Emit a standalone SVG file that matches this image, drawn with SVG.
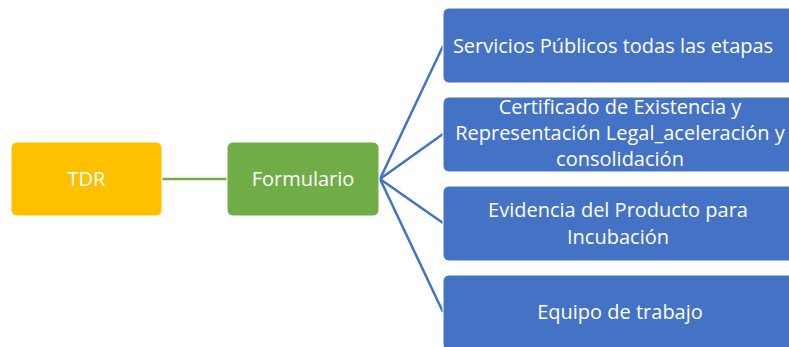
<svg xmlns="http://www.w3.org/2000/svg" width="789" height="347" viewBox="0 0 789 347">
<style>
.t{font-family:"Open Sans","Liberation Sans",sans-serif;font-size:20px;fill:#fff;text-anchor:middle}
.b{fill:#4472C4;stroke:#fff;stroke-width:1}
</style>
<rect width="789" height="347" fill="#fff"/>
<g id="connectors" fill="none" stroke-width="2.5">
<line x1="162" y1="179" x2="227" y2="179" stroke="#70AD47"/>
<g stroke="#4472C4">
<line x1="380" y1="179" x2="443" y2="46"/>
<line x1="380" y1="179" x2="443" y2="134"/>
<line x1="380" y1="179" x2="443" y2="223"/>
<line x1="380" y1="179" x2="443" y2="312"/>
</g>
</g>
<g id="tdr"><rect x="11" y="142" width="151" height="74" rx="6" fill="#FFC000" stroke="#fff"/><text class="t" x="86.5" y="186">TDR</text></g>
<g id="formulario"><rect x="227" y="142" width="152" height="74" rx="6" fill="#70AD47" stroke="#fff"/><text class="t" x="303" y="186">Formulario</text></g>
<g id="servicios"><rect class="b" x="443" y="8" width="356" height="75" rx="6"/><text class="t" x="613" y="53">Servicios Públicos todas las etapas</text></g>
<g id="certificado"><rect class="b" x="443" y="97" width="356" height="75" rx="6"/><text class="t" x="620" y="114">Certificado de Existencia y</text><text class="t" x="620" y="140">Representación Legal_aceleración y</text><text class="t" x="620" y="166">consolidación</text></g>
<g id="evidencia"><rect class="b" x="443" y="186" width="356" height="75" rx="6"/><text class="t" x="618" y="217">Evidencia del Producto para</text><text class="t" x="618" y="244">Incubación</text></g>
<g id="equipo"><rect class="b" x="443" y="275" width="356" height="75" rx="6"/><text class="t" x="620" y="319">Equipo de trabajo</text></g>
</svg>
